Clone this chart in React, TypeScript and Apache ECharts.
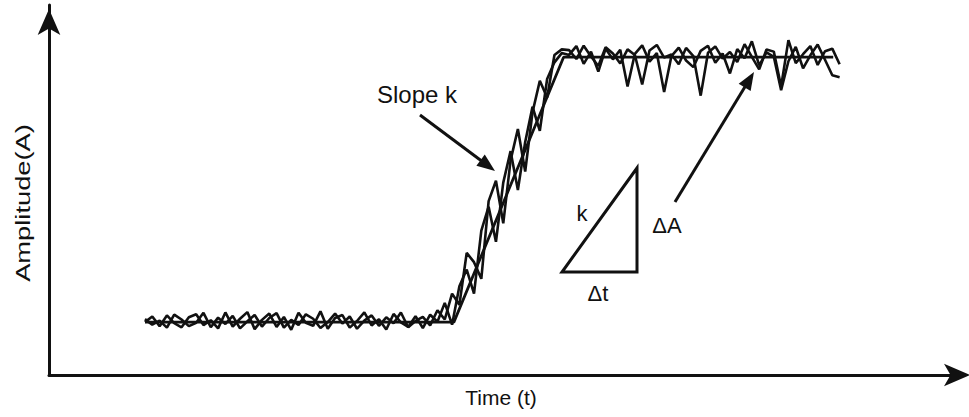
import React, { useEffect, useRef } from "react";
import * as echarts from "echarts";

// Sample times of the noisy measured traces
const sampleTimes = [
  10.5, 11.3, 12.1, 12.9, 13.7, 14.5, 15.3, 16.1, 16.9, 17.7, 18.5, 19.3, 20.1, 20.9, 21.7, 22.5,
  23.3, 24.1, 24.9, 25.7, 26.5, 27.3, 28.1, 28.9, 29.7, 30.5, 31.3, 32.1, 32.9, 33.7, 34.5, 35.3,
  36.1, 36.9, 37.7, 38.5, 39.3, 40.1, 40.9, 41.7, 42.5, 43.3, 44.1, 44.9, 45.7, 46.5, 47.3, 48.1,
  48.9, 49.7, 50.5, 51.3, 52.1, 52.9, 53.7, 54.5, 55.3, 56.1, 56.9, 57.7, 58.5, 59.3, 60.1, 60.9,
  61.7, 62.5, 63.3, 64.1, 64.9, 65.7, 66.5, 67.3, 68.1, 68.9, 69.7, 70.5, 71.3, 72.1, 72.9, 73.7,
  74.5, 75.3, 76.1, 76.9, 77.7, 78.5, 79.3, 80.1, 80.9, 81.7, 82.5, 83.3, 84.1, 84.9, 85.7, 86.5,
];

const traceAAmp = [
  14.3, 15.8, 13.2, 16.1, 14.0, 12.9, 15.6, 16.4, 13.5, 14.8, 12.6, 16.9, 13.1, 15.2, 17.0, 12.4,
  14.9, 16.6, 13.0, 15.7, 12.2, 16.8, 14.1, 13.3, 17.2, 12.5, 15.4, 16.2, 12.8, 14.6, 16.9, 13.4,
  15.1, 12.3, 16.5, 14.2, 13.0, 15.9, 12.7, 16.3, 14.4, 19.5, 13.6,
  24.0, 28.5, 22.0, 39.0, 45.5, 36.0, 52.0, 60.5, 50.0, 63.0, 72.5, 66.0, 80.0, 84.5, 87.0,
  86.5, 88.9, 84.1, 87.4, 82.0, 88.2, 85.3, 87.9, 78.0, 86.8, 89.1, 84.7, 87.0, 76.5, 86.2, 88.5,
  85.0, 83.2, 87.6, 89.0, 84.4, 86.9, 81.5, 88.1, 85.6, 90.2, 83.7, 87.2, 86.0, 77.0, 84.8, 88.7,
  82.9, 86.4, 89.3, 85.2, 81.0, 80.5,
];

const traceBAmp = [
  15.1, 13.6, 14.7, 12.8, 16.3, 15.0, 13.2, 14.1, 16.8, 12.9, 15.5, 13.8, 16.0, 12.6, 14.5, 16.2,
  13.1, 15.4, 16.7, 12.8, 14.9, 13.5, 16.4, 15.2, 12.7, 14.3, 16.6, 13.9, 15.8, 12.5, 14.7, 16.1,
  13.3, 15.6, 14.0, 16.9, 12.9, 14.6, 15.7, 13.4, 17.5, 15.0, 22.0,
  19.0, 33.0, 30.5, 26.0, 47.0, 52.5, 41.0, 58.0, 66.5, 55.0, 71.0, 79.5, 75.0, 86.5, 88.0,
  87.8, 85.4, 89.0, 86.1, 83.5, 88.6, 86.9, 84.2, 88.0, 86.5, 78.5, 87.7, 89.2, 85.8, 86.6, 84.0,
  88.4, 86.2, 75.5, 87.1, 88.8, 85.5, 87.3, 84.6, 89.4, 86.0, 82.6, 88.0, 87.4, 78.0, 90.5, 84.3,
  86.7, 88.9, 83.8, 87.5, 88.2, 84.0,
];

// Ideal (noise-free) ramp
const idealTime = [10.5, 44.3, 56.3, 85.8];
const idealAmp = [14.3, 14.3, 85.9, 85.9];

const INK = "#111111";
const FONT = "'Liberation Sans', Arial, sans-serif";

function arrow(x1: number, y1: number, x2: number, y2: number, len = 18, half = 7) {
  const dx = x2 - x1;
  const dy = y2 - y1;
  const L = Math.hypot(dx, dy);
  const ux = dx / L;
  const uy = dy / L;
  const bx = x2 - ux * len;
  const by = y2 - uy * len;
  return [
    {
      type: "line",
      shape: { x1, y1, x2: bx + ux * 3, y2: by + uy * 3 },
      style: { stroke: INK, lineWidth: 3 },
    },
    {
      type: "polygon",
      shape: {
        points: [
          [x2, y2],
          [bx - uy * half, by + ux * half],
          [bx + uy * half, by - ux * half],
        ],
      },
      style: { fill: INK },
    },
  ];
}

function txt(text: string, x: number, y: number, size: number, extra: any = {}) {
  return {
    type: "text",
    x,
    y,
    ...extra,
    style: {
      text,
      fill: INK,
      fontSize: size,
      fontFamily: FONT,
      align: "center",
      verticalAlign: "middle",
    },
  };
}

function axisOf(offsetEnd: number) {
  return {
    type: "value",
    min: 0,
    max: 100,
    axisTick: { show: false },
    axisLabel: { show: false },
    splitLine: { show: false },
    axisLine: {
      show: true,
      symbol: ["none", "arrow"],
      symbolSize: [17, 26],
      symbolOffset: [0, offsetEnd],
      lineStyle: { color: INK, width: 3 },
    },
  };
}

export default function App() {
  const ref = useRef<HTMLDivElement>(null);
  useEffect(() => {
    if (!ref.current) return;
    const chart = echarts.init(ref.current, undefined, { renderer: "svg" });
    const pairs = (ts: number[], as: number[]) => ts.map((t, i) => [t, as[i]]);
    chart.setOption({
      animation: false,
      backgroundColor: "#ffffff",
      grid: { left: 49, right: 6, top: 5, bottom: 42 },
      xAxis: axisOf(7),
      yAxis: axisOf(-4),
      series: [
        {
          type: "line",
          data: pairs(sampleTimes, traceAAmp),
          symbol: "none",
          lineStyle: { color: INK, width: 2.6 },
        },
        {
          type: "line",
          data: pairs(sampleTimes, traceBAmp),
          symbol: "none",
          lineStyle: { color: INK, width: 2.6 },
        },
        {
          type: "line",
          data: pairs(idealTime, idealAmp),
          symbol: "none",
          lineStyle: { color: INK, width: 2.8 },
        },
      ],
      graphic: [
        {
          type: "polygon",
          shape: { points: [[562, 272], [637, 272], [637, 168]] },
          style: { fill: "none", stroke: INK, lineWidth: 3 },
        },
        ...arrow(420, 115, 495, 171),
        ...arrow(675, 202, 754, 72),
        txt("Slope k", 417, 94, 24),
        txt("k", 582, 213, 22),
        txt("\u0394t", 598, 293, 22),
        txt("\u0394A", 667, 225, 22),
        txt("Time (t)", 501, 397, 21),
        txt("Amplitude(A)", 23, 203, 21, { rotation: Math.PI / 2, scaleX: 1.3 }),
      ],
    });
    return () => chart.dispose();
  }, []);
  return (
    <div
      ref={ref}
      style={{ position: "absolute", left: 0, top: 0, width: 969, height: 417 }}
    />
  );
}
